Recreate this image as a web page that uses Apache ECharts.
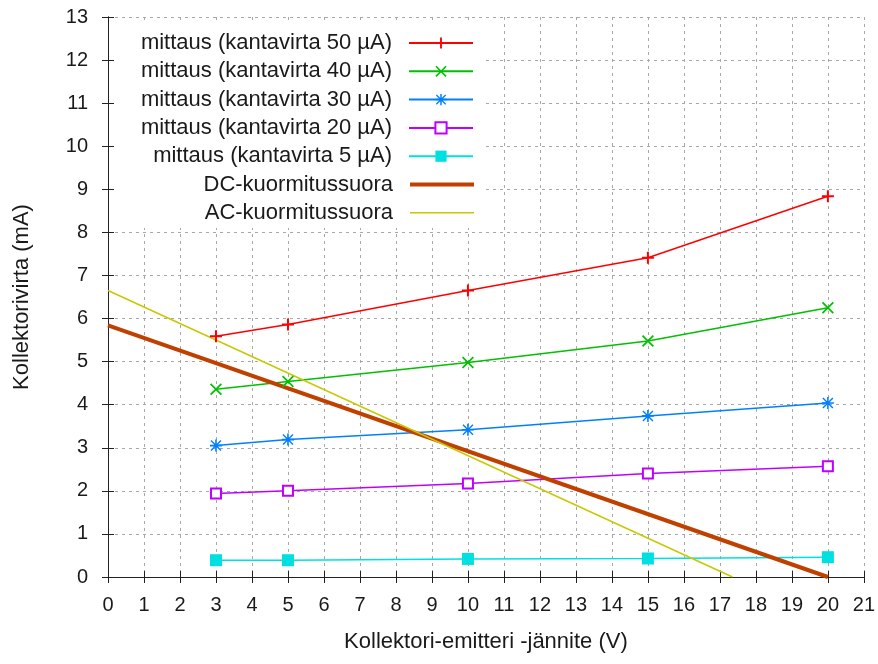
<!DOCTYPE html>
<html>
<head>
<meta charset="utf-8">
<script src="https://cdn.jsdelivr.net/npm/echarts@6/dist/echarts.min.js"></script>
<style>html,body{margin:0;padding:0;background:#fff;}#c{width:878px;height:664px;}</style>
</head>
<body>
<div id="c"></div>
<script>
const voltages = [3, 5, 10, 15, 20];
const ic50 = [5.59, 5.86, 6.65, 7.41, 8.84];
const ic40 = [4.36, 4.54, 4.98, 5.48, 6.25];
const ic30 = [3.05, 3.19, 3.42, 3.74, 4.04];
const ic20 = [1.94, 2.00, 2.17, 2.40, 2.57];
const ic5 = [0.39, 0.39, 0.42, 0.43, 0.46];
const dcLoadX = [0, 20];
const dcLoadY = [5.84, 0];
const acLoadX = [0, 17.35];
const acLoadY = [6.65, 0];
const seriesNames = [
  'mittaus (kantavirta 50 µA)',
  'mittaus (kantavirta 40 µA)',
  'mittaus (kantavirta 30 µA)',
  'mittaus (kantavirta 20 µA)',
  'mittaus (kantavirta 5 µA)',
  'DC-kuormitussuora',
  'AC-kuormitussuora'
];
const xTitle = 'Kollektori-emitteri -jännite (V)';
const yTitle = 'Kollektorivirta (mA)';

const FONT = 'Liberation Sans, Arial, sans-serif';
const TXT = '#1a1a1a';
const pair = (xs, ys) => xs.map((x, i) => [x, ys[i]]);

const PLUS = 'path://M5,0h2v12h-2z M0,5h12v2h-12z';
const CROSS = 'path://M0,1.2L1.2,0L12,10.8L10.8,12Z M10.8,0L12,1.2L1.2,12L0,10.8Z';
const STAR = 'path://M5.2,0h1.6v12h-1.6z M0,5.2h12v1.6h-12z M0.5,1.5L1.5,0.5L11.5,10.5L10.5,11.5Z M10.5,0.5L11.5,1.5L1.5,11.5L0.5,10.5Z';

function meas(name, ys, color, symbol, size, itemStyle) {
  return {
    name: name, type: 'line', data: pair(voltages, ys),
    symbol: symbol, symbolSize: size, showAllSymbol: true,
    lineStyle: { color: color, width: 1.5 },
    itemStyle: Object.assign({ color: color, borderWidth: 0 }, itemStyle || {}),
    emphasis: { disabled: true }
  };
}

const series = [
  meas(seriesNames[0], ic50, '#ff0000', PLUS, 12),
  meas(seriesNames[1], ic40, '#00c000', CROSS, 12),
  meas(seriesNames[2], ic30, '#0080ff', STAR, 12),
  meas(seriesNames[3], ic20, '#c000ff', 'emptyRect', 10, { borderWidth: 1.5, borderColor: '#c000ff' }),
  meas(seriesNames[4], ic5, '#00e0e0', 'rect', 12),
  {
    name: seriesNames[5], type: 'line', data: pair(dcLoadX, dcLoadY),
    symbol: 'none', lineStyle: { color: '#c04000', width: 4 }, itemStyle: { color: '#c04000' },
    emphasis: { disabled: true }
  },
  {
    name: seriesNames[6], type: 'line', data: pair(acLoadX, acLoadY),
    symbol: 'none', lineStyle: { color: '#c8c800', width: 1.5 }, itemStyle: { color: '#c8c800' },
    emphasis: { disabled: true }
  }
];

const legendIconHeights = [14, 14, 14, 14, 14, 4, 1.5];
const legends = seriesNames.map((n, i) => ({
  data: [i >= 5 ? { name: n, icon: 'rect' } : n],
  orient: 'vertical',
  align: 'right',
  right: 404,
  top: 32 + i * 28.3,
  padding: 0,
  itemWidth: 64,
  itemHeight: legendIconHeights[i],
  selectedMode: false,
  textStyle: { fontFamily: FONT, fontSize: 22, color: TXT, lineHeight: 22, padding: [0, 12, 0, 0] }
}));

const axisLine = { show: true, lineStyle: { color: '#222', width: 1 } };
const tick = { show: true, inside: true, length: 6, lineStyle: { color: '#222', width: 1 } };
const split = { show: true, lineStyle: { color: '#a8a8a8', width: 1, type: [3, 4] } };

const option = {
  animation: false,
  backgroundColor: '#fff',
  grid: { left: 108, right: 11, top: 17, bottom: 87, containLabel: false },
  legend: legends,
  graphic: [{
    type: 'rect', z: 1, silent: true,
    shape: { x: 115, y: 24, width: 370, height: 204 },
    style: { fill: '#fff' }
  }],
  xAxis: [{
    type: 'value', min: 0, max: 21, interval: 1, position: 'bottom',
    axisLine: axisLine, axisTick: tick, splitLine: split,
    axisLabel: { fontFamily: FONT, fontSize: 20, color: TXT, margin: 18 },
    name: xTitle, nameLocation: 'middle', nameGap: 54,
    nameTextStyle: { fontFamily: FONT, fontSize: 22, color: TXT }
  }, {
    type: 'value', min: 0, max: 21, interval: 1, position: 'top',
    axisLine: axisLine, axisTick: tick, splitLine: { show: false },
    axisLabel: { show: false }
  }],
  yAxis: [{
    type: 'value', min: 0, max: 13, interval: 1, position: 'left',
    axisLine: axisLine, axisTick: tick, splitLine: split,
    axisLabel: { fontFamily: FONT, fontSize: 20, color: TXT, margin: 20 },
    name: yTitle, nameLocation: 'middle', nameGap: 75,
    nameTextStyle: { fontFamily: FONT, fontSize: 22, color: TXT }
  }, {
    type: 'value', min: 0, max: 13, interval: 1, position: 'right',
    axisLine: axisLine, axisTick: tick, splitLine: { show: false },
    axisLabel: { show: false }
  }],
  series: series
};

const chart = echarts.init(document.getElementById('c'), null, { renderer: 'canvas' });
chart.setOption(option);
</script>
</body>
</html>
